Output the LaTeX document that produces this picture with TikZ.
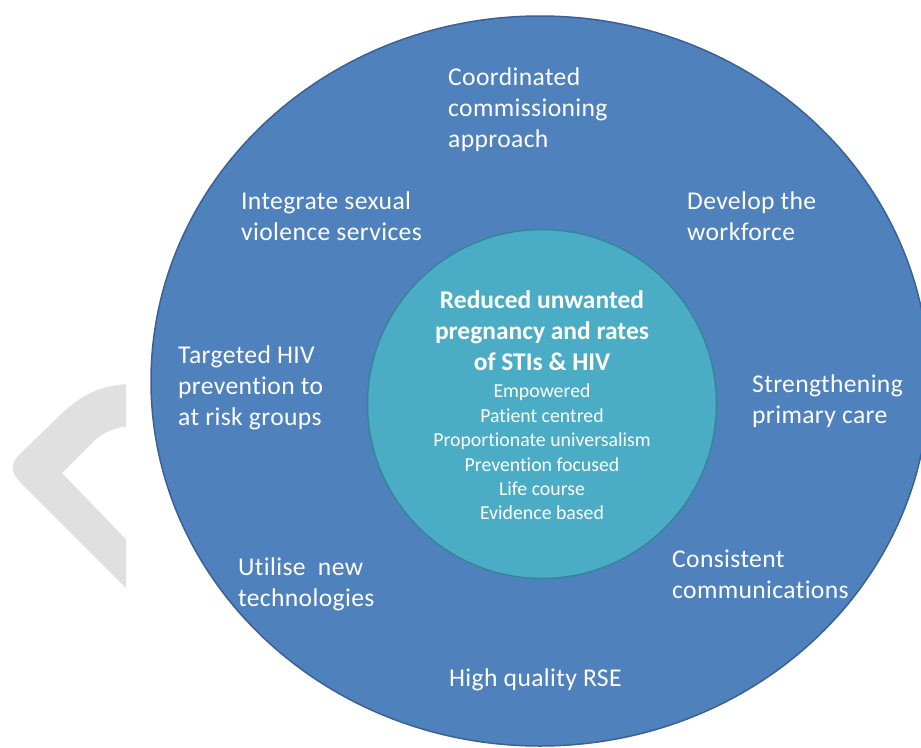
\documentclass[tikz,border=0pt]{standalone}
\usepackage{fontspec}
\setmainfont[Ligatures={NoCommon,NoContextual}]{Carlito}
\newfontfamily\outerfont[Ligatures={NoCommon,NoContextual},LetterSpace=1.4]{Carlito}
\definecolor{outerblue}{HTML}{4F81BD}
\definecolor{outerline}{HTML}{3B6194}
\definecolor{innerteal}{HTML}{4BACC6}
\definecolor{innerline}{HTML}{34879B}
\definecolor{chevgrey}{HTML}{E0E0E0}
\tikzset{
  outerlabel/.style={anchor=north west, inner sep=0pt, align=left, text=white,
    font=\outerfont\fontsize{25.6pt}{31pt}\selectfont},
  titlelabel/.style={anchor=north, inner sep=0pt, align=center, text=white,
    font=\fontsize{25.5pt}{31pt}\selectfont\bfseries},
  smalllabel/.style={anchor=north, inner sep=0pt, align=center, text=white,
    font=\fontsize{19.8pt}{24.4pt}\selectfont},
}
\newcommand{\tstr}{\rule[-9.3pt]{0pt}{21.7pt}}
\newcommand{\sstr}{\rule[-7.3pt]{0pt}{17.1pt}}
\begin{document}
\begin{tikzpicture}[x=1pt,y=-1pt]
\useasboundingbox (0,0) rectangle (921,747);
% grey chevron
\begin{scope}
\clip (0,0) rectangle (126,747);
\fill[chevgrey] (140,384) .. controls (100,383) and (80,395) .. (55,420)
  -- (22,452) .. controls (10,463) and (10,471) .. (20,482)
  -- (140,602) -- (140,554) -- (62,473) -- (95,440)
  .. controls (110,428) and (120,426) .. (140,426) -- cycle;
\end{scope}
% outer ellipse
\fill[outerblue, draw=outerline, line width=1.5pt] (540,381) ellipse [x radius=389, y radius=365];
\node[inner sep=0pt] (outer) at (540,381) {};
% inner circle
\fill[innerteal, draw=innerline, line width=1.5pt] (542,404) circle [radius=174.5];
\node[inner sep=0pt] (inner) at (542,404) {};
% outer labels
\node[outerlabel] (coord) at (448,68) {\tstr Coordinated\\\tstr commissioning\\\tstr approach};
\node[outerlabel] (integ) at (241,192) {\tstr Integrate sexual\\\tstr violence services};
\node[outerlabel] (devel) at (687,192) {\tstr Develop the\\\tstr workforce};
\node[outerlabel] (targ) at (178,346) {\tstr Targeted HIV\\\tstr prevention to\\\tstr at risk groups};
\node[outerlabel] (stren) at (752,375) {\tstr Strengthening\\\tstr primary care};
\node[outerlabel] (util) at (238,558) {\tstr Utilise\ \ new\\\tstr technologies};
\node[outerlabel] (cons) at (672,550) {\tstr Consistent\\\tstr communications};
\node[outerlabel] (rse) at (449,669) {\tstr High quality RSE};
% inner text
\node[titlelabel] (title) at (542,290) {\tstr Reduced unwanted\\\tstr pregnancy and rates\\\tstr of STIs \& HIV};
\node[smalllabel] (values) at (542,384) {\sstr Empowered\\\sstr Patient centred\\\sstr Proportionate universalism\\\sstr Prevention focused\\\sstr Life course\\\sstr Evidence based};
\end{tikzpicture}
\end{document}
